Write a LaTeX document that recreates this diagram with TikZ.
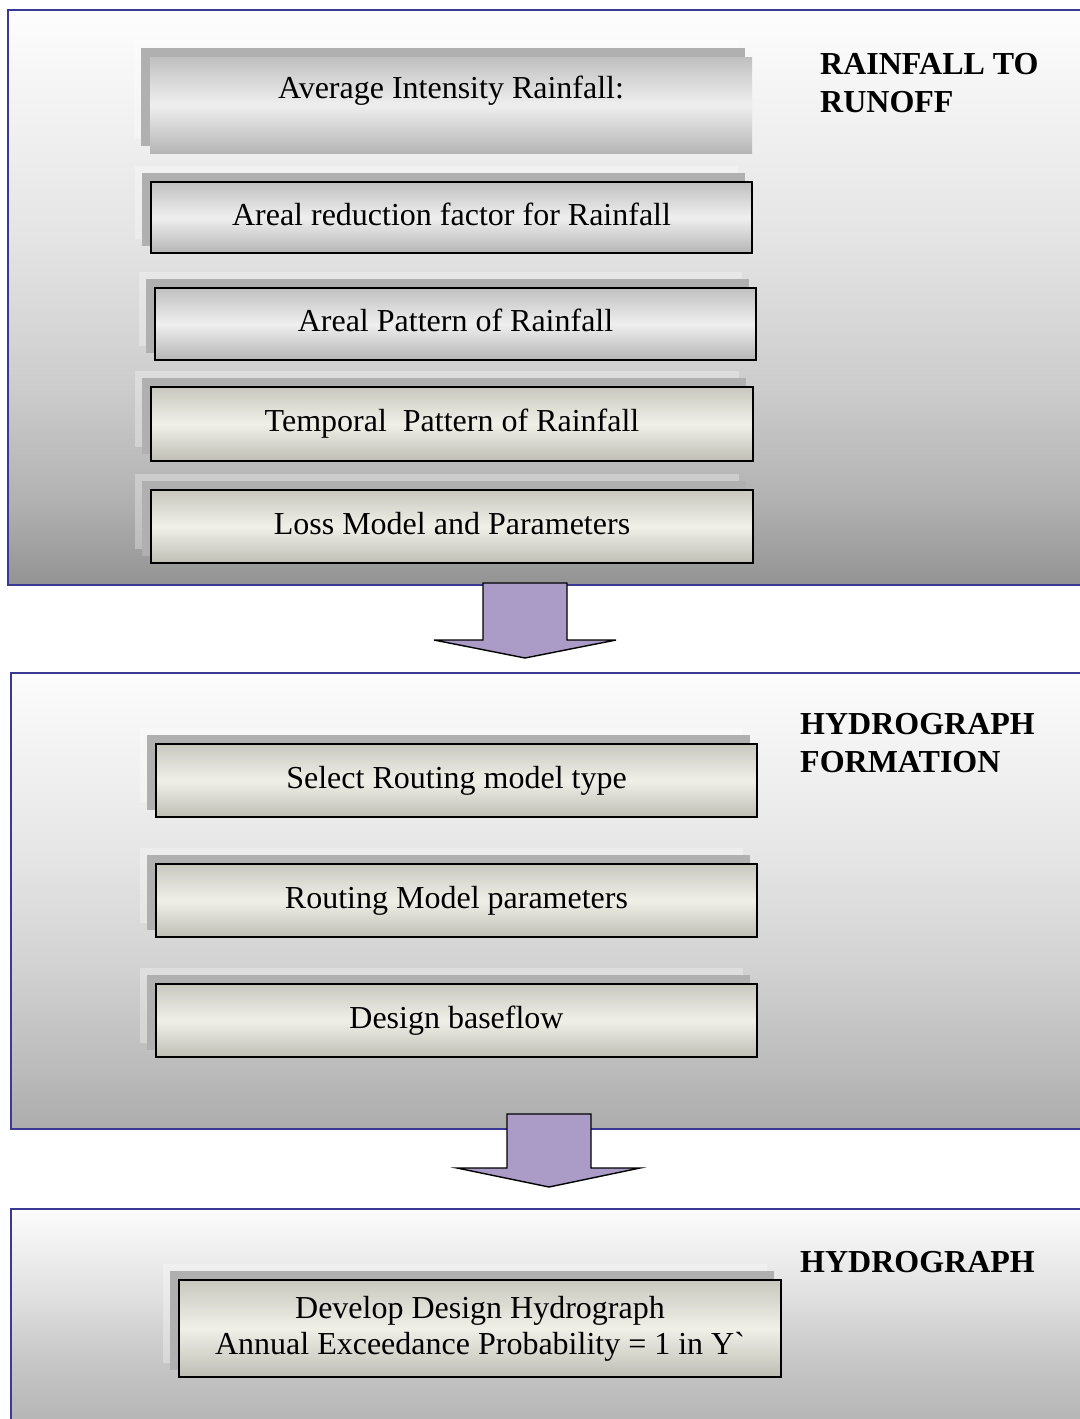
\documentclass[tikz,border=0pt]{standalone}
\usepackage{fontspec}
\setmainfont{Liberation Serif}
\usetikzlibrary{calc}
\definecolor{pblue}{HTML}{3A3A96}
\definecolor{plate}{HTML}{B0B0B0}
\definecolor{lav}{HTML}{AA9CC6}
\definecolor{gtop}{HTML}{C0C0C0}
\definecolor{gmid}{HTML}{EFEFEF}
\definecolor{gbot}{HTML}{B5B5B5}
\definecolor{btop}{HTML}{C9C8BF}
\definecolor{bmid}{HTML}{F1F0E8}
\definecolor{bbot}{HTML}{BFBEB5}
\definecolor{pa0}{HTML}{939393}
\definecolor{pa1}{HTML}{B2B2B2}
\definecolor{pa2}{HTML}{CDCDCD}
\definecolor{pa3}{HTML}{E4E4E4}
\definecolor{pa4}{HTML}{FDFDFD}
\definecolor{pb0}{HTML}{ACACAC}
\definecolor{pb1}{HTML}{BDBDBD}
\definecolor{pb2}{HTML}{D3D3D3}
\definecolor{pb3}{HTML}{E6E6E6}
\definecolor{pb4}{HTML}{FCFCFC}
\definecolor{pc0}{HTML}{B4B4B4}
\definecolor{pc1}{HTML}{C6C6C6}
\definecolor{pc2}{HTML}{E0E0E0}
\definecolor{pc3}{HTML}{FCFCFC}
\pgfdeclareverticalshading{panelA}{100bp}{color(0bp)=(pa0); color(25bp)=(pa0); color(32.5bp)=(pa1); color(42.5bp)=(pa2); color(55bp)=(pa3); color(75bp)=(pa4); color(100bp)=(pa4)}
\pgfdeclareverticalshading{panelB}{100bp}{color(0bp)=(pb0); color(25bp)=(pb0); color(32.5bp)=(pb1); color(43.5bp)=(pb2); color(55.5bp)=(pb3); color(75bp)=(pb4); color(100bp)=(pb4)}
\pgfdeclareverticalshading{panelC}{100bp}{color(0bp)=(pc0); color(25bp)=(pc0); color(40bp)=(pc1); color(55bp)=(pc2); color(75bp)=(pc3); color(100bp)=(pc3)}
\pgfdeclarelayer{bg}
\pgfdeclarelayer{plates}
\pgfsetlayers{bg,plates,main}
\newcommand\boxfont{\fontsize{32}{36}\selectfont}
\newcommand\ttlfont{\fontsize{32}{38}\selectfont\bfseries}
\begin{document}
\begin{tikzpicture}[x=1pt,y=-1pt,
  panelbox/.style={draw=pblue, line width=2.2pt, shade, anchor=north west, inner sep=0pt, minimum width=1090pt},
  stepbox/.style={draw=black, line width=1.4pt, inner sep=0pt, minimum width=601pt, minimum height=73pt, font=\boxfont, align=center, text height=22pt, text depth=7pt},
  graybox/.style={stepbox, top color=gtop, bottom color=gbot, middle color=gmid},
  beigebox/.style={stepbox, top color=btop, bottom color=bbot, middle color=bmid},
  backplate/.style={fill=plate, draw=none},
  haloplate/.style={fill=white, fill opacity=0.3, draw=none},
  blockarrow/.style={fill=lav, draw=black, line width=1.4pt, line join=miter},
  ttl/.style={font=\ttlfont, align=left, anchor=north west, inner sep=0pt}
]
\useasboundingbox (0,0) rectangle (1079,1419);
\clip (0,0) rectangle (1079,1419);
\begin{pgfonlayer}{bg}
\fill[white] (0,0) rectangle (1079,1419);
\node[panelbox, shading=panelA, minimum height=575pt] (p1) at (7,9) {};
\node[panelbox, shading=panelB, minimum height=456pt] (p2) at (10,672) {};
\node[panelbox, shading=panelC, minimum height=218pt] (p3) at (10,1208) {};
\end{pgfonlayer}

% boxes
\node[graybox, draw=none, minimum width=602pt, minimum height=96pt, text depth=36pt] (b1) at (451,105) {Average Intensity Rainfall:};
\node[graybox, minimum height=71pt] (b2) at (451.5,217.5) {Areal reduction factor for Rainfall};
\node[graybox, minimum height=72pt] (b3) at (455.5,324) {Areal Pattern of Rainfall};
\node[beigebox, minimum width=602pt, minimum height=74pt] (b4) at (452,424) {Temporal\ \ Pattern of Rainfall};
\node[beigebox, minimum width=602pt] (b5) at (452,526.5) {Loss Model and Parameters};
\node[beigebox] (b6) at (456.5,780.5) {Select Routing model type};
\node[beigebox] (b7) at (456.5,900.5) {Routing Model parameters};
\node[beigebox] (b8) at (456.5,1020.5) {Design baseflow};
\node[beigebox, minimum width=602pt, minimum height=97pt, text height=, text depth=] (b9) at (480,1328.5) {Develop Design Hydrograph\\Annual Exceedance Probability = 1 in Y\textasciigrave};

\begin{pgfonlayer}{plates}
\foreach \b in {b1,b2,b3,b4,b5,b6,b7,b8,b9}{
  \fill[haloplate] ($(\b.north west)+(-15,-15)$) rectangle ($(\b.south east)+(-15,-15)$);
  \fill[backplate] ($(\b.north west)+(-8,-8)$) rectangle ($(\b.south east)+(-8,-8)$);
}
\end{pgfonlayer}

% titles
\node[ttl] (t1) at (820,53) {RAINFALL TO\\RUNOFF};
\node[ttl] (t2) at (800,713.5) {HYDROGRAPH\\FORMATION};
\node[ttl] (t3) at (800,1251.5) {HYDROGRAPH};

% block arrows between panels
\draw[blockarrow] (483,583) -- (483,640) -- (434,640) -- (525,658) -- (616,640) -- (567,640) -- (567,583) -- cycle;
\draw[blockarrow] (507,1114) -- (507,1168) -- (457,1168) -- (549,1187) -- (640,1168) -- (591,1168) -- (591,1114) -- cycle;
\end{tikzpicture}
\end{document}
